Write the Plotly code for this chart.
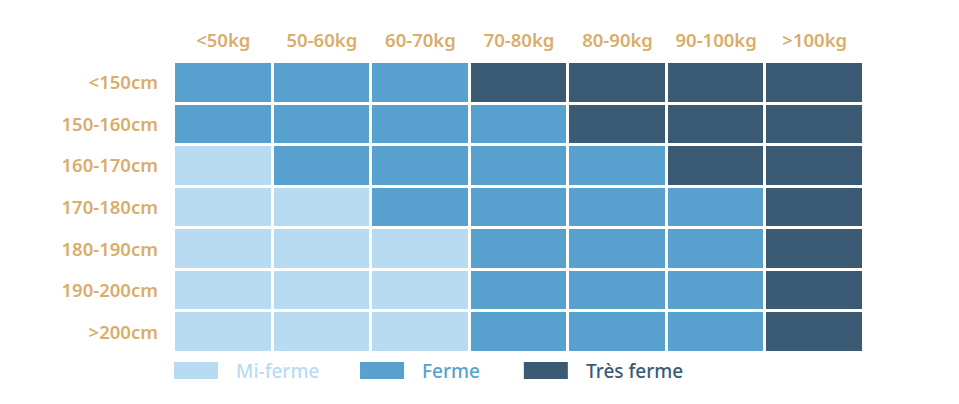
import plotly.graph_objects as go

# Catégories
poids = ['<50kg', '50-60kg', '60-70kg', '70-80kg', '80-90kg', '90-100kg', '>100kg']
tailles = ['<150cm', '150-160cm', '160-170cm', '170-180cm', '180-190cm', '190-200cm', '>200cm']
niveaux = ['Mi-ferme', 'Ferme', 'Très ferme']
couleurs = ['#b8dbf2', '#58a1cf', '#3b5b75']

# 0 = Mi-ferme, 1 = Ferme, 2 = Très ferme
fermete = [
    [1, 1, 1, 2, 2, 2, 2],
    [1, 1, 1, 1, 2, 2, 2],
    [0, 1, 1, 1, 1, 2, 2],
    [0, 0, 1, 1, 1, 1, 2],
    [0, 0, 0, 1, 1, 1, 2],
    [0, 0, 0, 1, 1, 1, 2],
    [0, 0, 0, 1, 1, 1, 2],
]

texte = [[niveaux[v] for v in ligne] for ligne in fermete]

echelle = [
    [0.0, couleurs[0]], [1 / 3, couleurs[0]],
    [1 / 3, couleurs[1]], [2 / 3, couleurs[1]],
    [2 / 3, couleurs[2]], [1.0, couleurs[2]],
]

fig = go.Figure()

fig.add_trace(go.Heatmap(
    z=fermete,
    x=poids,
    y=tailles,
    text=texte,
    hovertemplate='%{y} / %{x}<br>%{text}<extra></extra>',
    colorscale=echelle,
    zmin=-0.5,
    zmax=2.5,
    xgap=3,
    ygap=3,
    showscale=False,
))

or_clair = '#d9ad6b'
police = dict(family='Noto Sans', size=18.5, color=or_clair, weight=600)

fig.update_layout(
    width=951,
    height=396,
    margin=dict(l=166, r=95, t=54, b=51),
    paper_bgcolor='white',
    plot_bgcolor='white',
    font=police,
    xaxis=dict(side='top', showgrid=False, zeroline=False, ticks='',
               tickfont=police, ticklabelstandoff=10, fixedrange=True),
    yaxis=dict(autorange='reversed', showgrid=False, zeroline=False, ticks='',
               tickfont=police, ticklabelstandoff=15, fixedrange=True),
)

# Légende personnalisée
legende_x = [0.0, 0.2696, 0.507]
for i, nom in enumerate(niveaux):
    x0 = legende_x[i]
    fig.add_shape(type='rect', xref='paper', yref='paper',
                  x0=x0, x1=x0 + 0.0638, y0=-0.089, y1=-0.031,
                  fillcolor=couleurs[i], line=dict(width=0))
    fig.add_annotation(xref='paper', yref='paper', x=x0 + 0.087, y=-0.062,
                       text=nom, showarrow=False, xanchor='left', yanchor='middle',
                       font=dict(family='Noto Sans', size=19, color=couleurs[i], weight=500))

fig.write_html('out.html')
